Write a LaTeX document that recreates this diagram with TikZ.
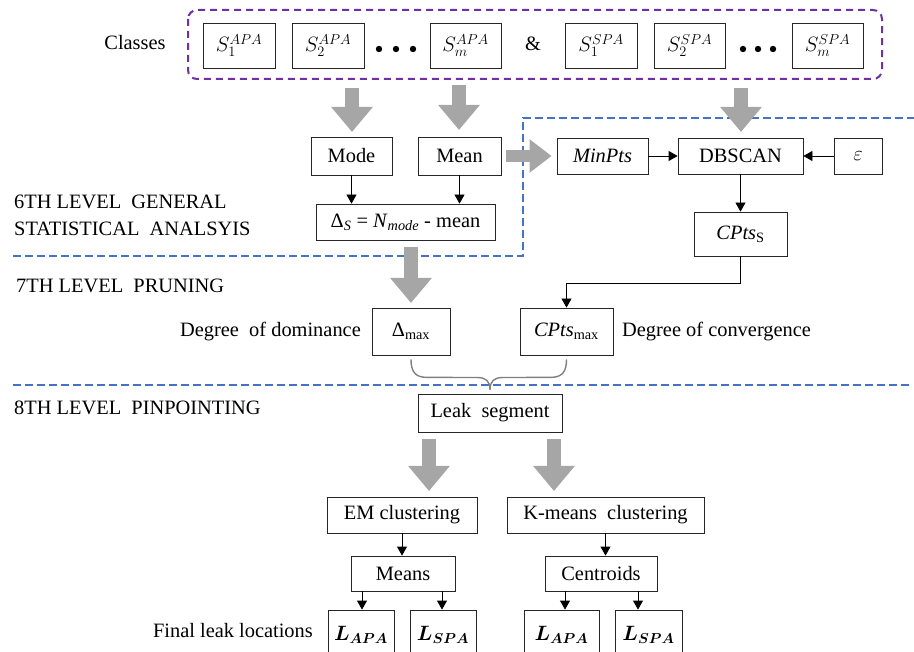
\documentclass[tikz,border=0pt]{standalone}
\usepackage{fontspec}
\setmainfont{LiberationSerif}[Extension=.ttf, UprightFont=*-Regular, ItalicFont=*-Italic, BoldFont=*-Bold, BoldItalicFont=*-BoldItalic]
\usetikzlibrary{arrows.meta,calc}
\definecolor{blockgray}{HTML}{A6A6A6}
\definecolor{bracegray}{HTML}{808080}
\definecolor{levelblue}{HTML}{4472C4}
\definecolor{classpurple}{HTML}{7030A0}
\begin{document}
\begin{tikzpicture}[x=1pt,y=-1pt,
  every node/.style={font=\rmfamily\fontsize{20.4}{24}\selectfont},
  box/.style={draw=black!85, line width=0.8pt, inner sep=0pt, minimum height=36pt},
  lab/.style={inner sep=0pt},
  link/.style={draw=black, line width=0.8pt, -{Triangle[width=10pt,length=9pt]}},
  blockarrow/.style={draw=blockgray, line width=14pt, -{Triangle[width=40pt,length=25pt]}},
  sidearrow/.style={draw=blockgray, line width=12pt, -{Triangle[width=32pt,length=22pt]}},
  levelline/.style={draw=levelblue, line width=2.4pt, dash pattern=on 8pt off 4pt},
  classframe/.style={draw=classpurple, line width=2pt, dash pattern=on 7pt off 5pt, rounded corners=9pt}
]
\useasboundingbox (0,0) rectangle (914,652);

% --- class sets ---
\node[lab, anchor=base] (classes) at (135,50) {Classes};
\draw[classframe] (188,10) rectangle (882,79);
\node[box, minimum width=72pt, minimum height=45pt] (s1a) at (239,45.5) {$S_1^{APA}$};
\node[box, minimum width=72pt, minimum height=45pt] (s2a) at (328,45.5) {$S_2^{APA}$};
\node[box, minimum width=71pt, minimum height=45pt] (sma) at (465.5,45.5) {$S_m^{APA}$};
\node[lab] (amp) at (533,44) {\&};
\node[box, minimum width=72pt, minimum height=45pt] (s1s) at (601,45.5) {$S_1^{SPA}$};
\node[box, minimum width=71pt, minimum height=45pt] (s2s) at (689.5,45.5) {$S_2^{SPA}$};
\node[box, minimum width=71pt, minimum height=45pt] (sms) at (827.5,45.5) {$S_m^{SPA}$};
\foreach \x in {379,396,413,743,758,773} \fill (\x,49) circle (3.2);

% --- level separators ---
\draw[levelline] (13,256) -- (523,256) -- (523,118) -- (914,118);
\draw[levelline] (13,385) -- (912,385);

% --- level labels ---
\node[lab, anchor=base west] (lev6a) at (14,209) {6TH LEVEL\ \ GENERAL};
\node[lab, anchor=base west] (lev6b) at (14,236) {STATISTICAL\ \ ANALSYIS};
\node[lab, anchor=base west] (lev7) at (16,293) {7TH LEVEL\ \ PRUNING};
\node[lab, anchor=base west] (lev8) at (14,415) {8TH LEVEL\ \ PINPOINTING};

% --- 6th level ---
\node[box, minimum width=81pt, minimum height=38pt] (mode) at (351.5,156) {Mode};
\node[box, minimum width=83pt, minimum height=38pt] (mean) at (459.5,156) {Mean};
\node[box, minimum width=179pt] (delta) at (405.5,222) {Δ\textsubscript{\textit{S}} = \textit{N}\textsubscript{\textit{mode}} - mean};
\node[box, minimum width=91pt] (minpts) at (602.5,156) {$\mathit{MinPts}$};
\node[box, minimum width=125pt] (dbscan) at (740.5,156) {DBSCAN};
\node[box, minimum width=48pt] (eps) at (858,156) {$\varepsilon$};
\node[box, minimum width=93pt, minimum height=44pt] (cpts) at (740.5,234) {$\mathit{CPts}_{\mathrm{S}}$};

% --- 7th level ---
\node[box, minimum width=78pt, minimum height=47pt] (dmax) at (411,331.5) {Δ\textsubscript{max}};
\node[box, minimum width=93pt, minimum height=47pt] (cmax) at (566.5,331.5) {\textit{CPts}\textsubscript{max}};
\node[lab, anchor=base east] (dom) at (361,337) {Degree\ \ of dominance};
\node[lab, anchor=base west] (conv) at (622,337) {Degree of convergence};

% --- 8th level ---
\node[box, minimum width=144pt, minimum height=38pt] (leak) at (490,413) {Leak\ \ segment};
\node[box, minimum width=150pt] (em) at (402,515) {EM clustering};
\node[box, minimum width=197pt] (km) at (605.5,515) {K-means\ \ clustering};
\node[box, minimum width=104pt, minimum height=35pt] (means) at (403,573.5) {Means};
\node[box, minimum width=112pt, minimum height=35pt] (cent) at (601,573.5) {Centroids};
\node[box, minimum width=66pt, minimum height=50pt] (la1) at (361,635) {\raisebox{-2pt}{\boldmath$L_{APA}$}};
\node[box, minimum width=66pt, minimum height=50pt] (ls1) at (443,635) {\raisebox{-2pt}{\boldmath$L_{SPA}$}};
\node[box, minimum width=75pt, minimum height=50pt] (la2) at (561.5,635) {\raisebox{-2pt}{\boldmath$L_{APA}$}};
\node[box, minimum width=67pt, minimum height=50pt] (ls2) at (648.5,635) {\raisebox{-2pt}{\boldmath$L_{SPA}$}};
\node[lab, anchor=base east] (final) at (313,637) {Final leak locations};

% --- block arrows ---
\coordinate (gmode) at (352,88);
\coordinate (gmean) at (459,85);
\coordinate (gdb) at (741,88);
\coordinate (gdelta) at (411,247);
\coordinate (gside) at (506,156);
\coordinate (gem) at (429,439);
\coordinate (gkm) at (554,439);
\draw[blockarrow] (gmode) -- (gmode |- 0,132);
\draw[blockarrow] (gmean) -- (gmean |- 0,130);
\draw[blockarrow] (gdb) -- (gdb |- 0,132);
\draw[blockarrow] (gdelta) -- (gdelta |- 0,303);
\draw[blockarrow] (gem) -- (gem |- 0,491);
\draw[blockarrow] (gkm) -- (gkm |- 0,491);
\draw[sidearrow] (gside) -- ($(minpts.west)+(-5,0)$);

% --- connectors ---
\draw[link] (mode.south) -- (mode.south |- delta.north);
\draw[link] (mean.south) -- (mean.south |- delta.north);
\draw[link] (minpts.east) -- (dbscan.west);
\draw[link] (eps.west) -- (dbscan.east);
\draw[link] (dbscan.south) -- (cpts.north);
\draw[link] (cpts.south) -- ++(0,27) -| (cmax.north);
\draw[link] (em.south) -- (em.south |- means.north);
\draw[link] (km.south) -- (km.south |- cent.north);
\draw[link] ($(means.south)+(-41,0)$) -- ($(la1.north)+(1,0)$);
\draw[link] ($(means.south)+(39,0)$) -- ($(ls1.north)+(-1,0)$);
\draw[link] ($(cent.south)+(-36,0)$) -- ($(la2.north)+(3.5,0)$);
\draw[link] ($(cent.south)+(37,0)$) -- ($(ls2.north)+(-10.5,0)$);

% --- brace joining the two pruning criteria ---
\coordinate (btip) at (490,390);
\draw[bracegray, line width=1.4pt]
  ($(dmax.south)+(0,4)$) .. controls ($(dmax.south)+(0,16)$) and ($(dmax.south)+(4,22)$) .. ($(dmax.south)+(16,22)$)
  -- (477,377.5) .. controls (486,377.5) and (490,381) .. (btip)
  (btip) .. controls (490,381) and (494,377.5) .. (503,377.5)
  -- ($(cmax.south)+(-16,22)$) .. controls ($(cmax.south)+(-4,22)$) and ($(cmax.south)+(0,16)$) .. ($(cmax.south)+(0,4)$);
\end{tikzpicture}
\end{document}
